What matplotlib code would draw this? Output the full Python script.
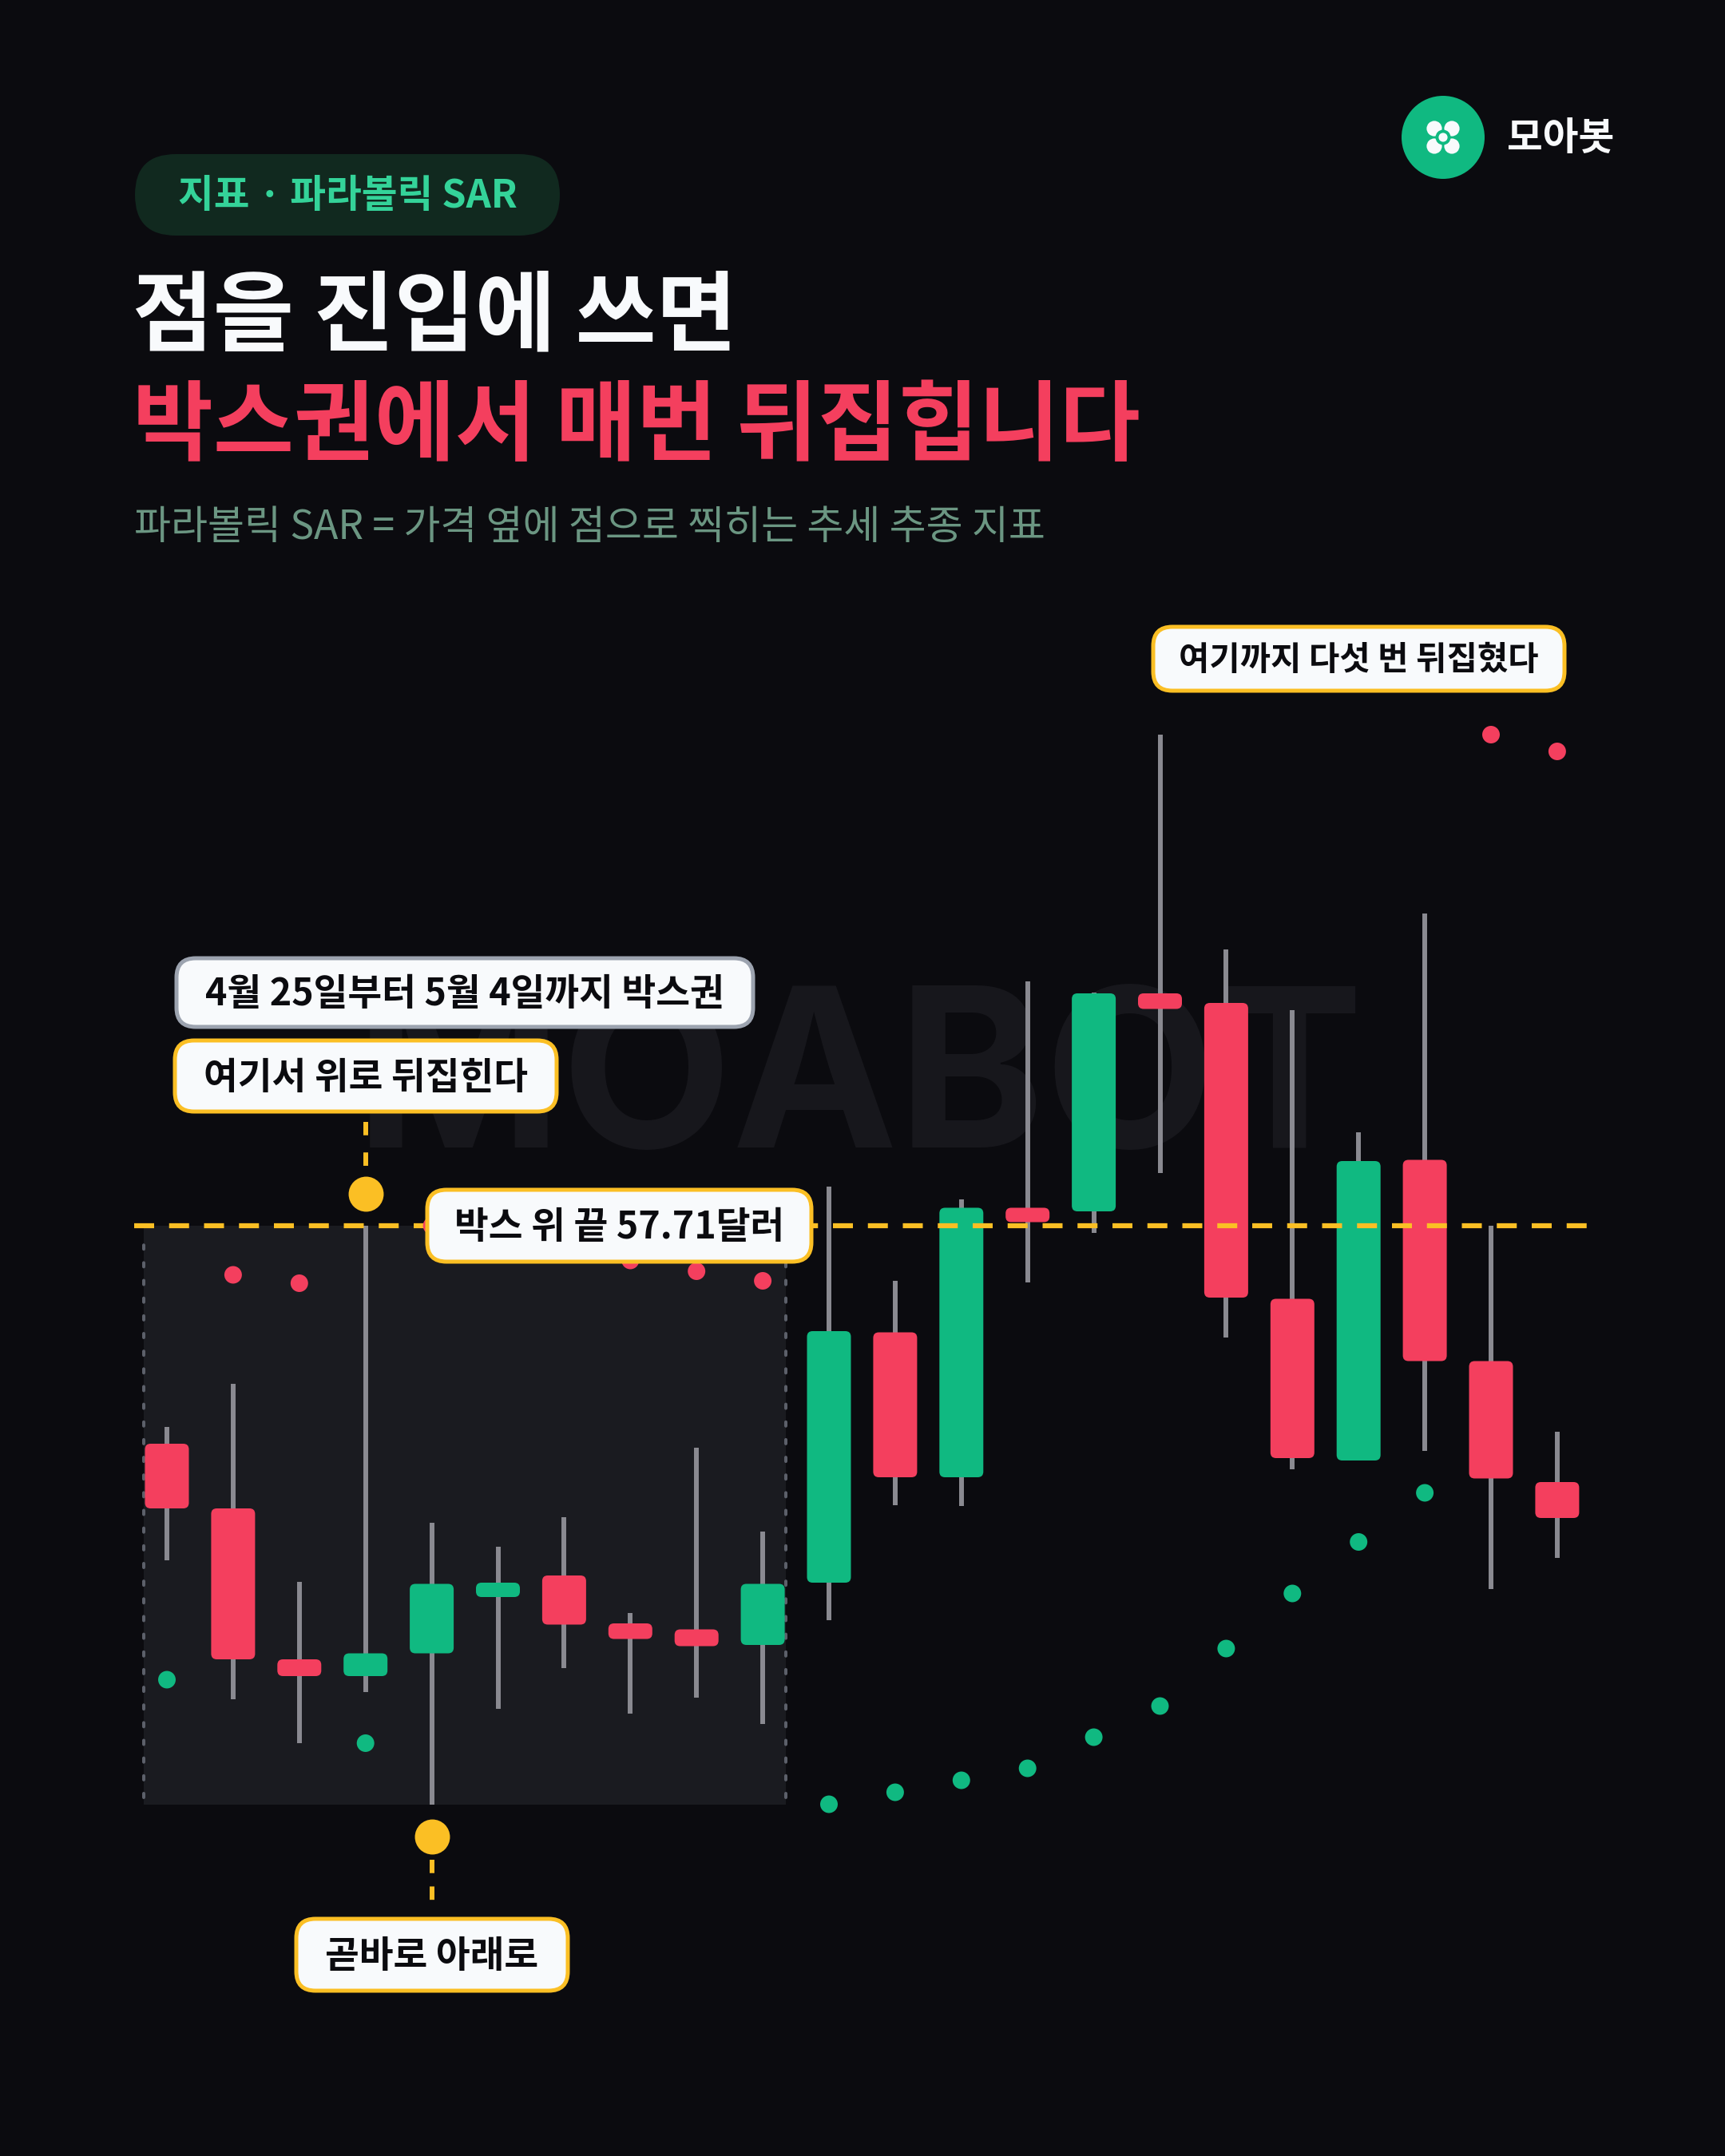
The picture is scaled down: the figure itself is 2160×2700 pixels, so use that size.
import matplotlib
matplotlib.use("Agg")
import matplotlib.pyplot as plt
from matplotlib.patches import FancyBboxPatch, Circle, Rectangle
from matplotlib.transforms import Affine2D

# ---------------- data ----------------
opens  = [55.89, 55.35, 54.09, 53.95, 54.14, 54.61, 54.79, 54.39, 54.34, 54.21,
          54.73, 56.82, 55.61, 57.86, 57.83, 59.65, 59.57, 57.10, 55.75, 58.26,
          56.58, 55.57]
highs  = [56.03, 56.39, 54.74, 57.71, 55.23, 55.03, 55.28, 54.48, 55.86, 55.16,
          58.04, 57.25, 57.93, 59.75, 59.66, 61.81, 60.02, 59.51, 58.49, 60.32,
          57.71, 55.99]
lows   = [54.92, 53.76, 53.39, 53.82, 52.88, 53.68, 54.02, 53.64, 53.77, 53.55,
          54.42, 55.38, 55.37, 57.24, 57.65, 58.15, 56.78, 55.68, 55.75, 55.83,
          54.68, 54.94]
closes = [55.35, 54.09, 53.95, 54.14, 54.72, 54.73, 54.38, 54.26, 54.20, 54.72,
          56.83, 55.61, 57.86, 57.74, 59.65, 59.52, 57.11, 55.77, 58.25, 56.58,
          55.60, 55.27]
sar    = [53.92, 57.30, 57.23, 53.39, 57.71, 57.62, 57.53, 57.42, 57.33, 57.25,
          52.88, 52.98, 53.08, 53.18, 53.44, 53.70, 54.18, 54.64, 55.07, 55.48,
          61.81, 61.67]
box_first, box_last = 0, 9
box_top = 57.71
flip_up_idx, flip_down_idx = 3, 4

tag_text = "지표 · 파라볼릭 SAR"
title_line1 = "점을 진입에 쓰면"
title_line2 = "박스권에서 매번 뒤집힙니다"
subtitle = "파라볼릭 SAR = 가격 옆에 점으로 찍히는 추세 추종 지표"
brand = "모아봇"
watermark = "MOABOT"
label_range = "4월 25일부터 5월 4일까지 박스권"
label_up = "여기서 위로 뒤집힌다"
label_top = f"박스 위 끝 {box_top:.2f}달러"
label_down = "곧바로 아래로"
label_five = "여기까지 다섯 번 뒤집혔다"

# ---------------- style ----------------
W, H, DPI = 2160, 2700, 100
BG = "#0b0b0f"
BOXBG = "#1a1b20"
GREEN = "#10b981"
RED = "#f43f5e"
WICK = "#8a8a91"
YEL = "#fbbf24"
WHITE = "#f8fafc"
INK = "#0b0b0f"
FONT = ["Noto Sans CJK KR", "DejaVu Sans"]

fig = plt.figure(figsize=(W / DPI, H / DPI), dpi=DPI, facecolor=BG)
ax = fig.add_axes([0, 0, 1, 1])
ax.axis("off")

# price/index scale placement on the canvas
x0_px, step_px = 209.0, 82.9
yref_px, px_per_usd = 1535.0, 150.0
ax.set_xlim((0 - x0_px) / step_px, (W - x0_px) / step_px)
ax.set_ylim(box_top - (H - yref_px) / px_per_usd, box_top + yref_px / px_per_usd)

PX = Affine2D().scale(1 / W, -1 / H).translate(0, 1) + fig.transFigure


def px_x(i):
    return x0_px + step_px * i


def px_y(p):
    return yref_px - (p - box_top) * px_per_usd


# ---------------- header ----------------
ax.add_patch(FancyBboxPatch((169, 193), 532, 102, boxstyle="round,pad=0,rounding_size=51",
                            transform=PX, fc="#11291f", ec="none", zorder=2))
ax.text(435, 246, tag_text, transform=PX, ha="center", va="center", fontsize=35,
        fontweight="bold", color="#34d399", family=FONT, zorder=3)
ax.text(166, 430, title_line1, transform=PX, ha="left", va="baseline", fontsize=79,
        fontweight="heavy", color=WHITE, family=FONT, zorder=3)
ax.text(166, 568, title_line2, transform=PX, ha="left", va="baseline", fontsize=79,
        fontweight="heavy", color=RED, family=FONT, zorder=3)
ax.text(168, 675, subtitle, transform=PX, ha="left", va="baseline", fontsize=36,
        fontweight="medium", color="#6b9682", family=FONT, zorder=3)

# logo
lc = (1807, 172)
ax.add_patch(Circle(lc, 52, transform=PX, fc=GREEN, ec="none", zorder=3))
for dx in (-11, 11):
    for dy in (-11, 11):
        ax.add_patch(Circle((lc[0] + dx, lc[1] + dy), 9.6, transform=PX, fc=WHITE, ec="none", zorder=4))
ax.add_patch(Circle(lc, 9.5, transform=PX, fc=GREEN, ec="none", zorder=5))
ax.add_patch(Circle(lc, 5.6, transform=PX, fc=WHITE, ec="none", zorder=6))
ax.text(1887, 174, brand, transform=PX, ha="left", va="center", fontsize=35,
        fontweight="bold", color=WHITE, family=FONT, zorder=3)

# watermark (sits behind the callouts, as in the original design)
ax.text(1076, 1437, watermark, transform=PX, ha="center", va="baseline", fontsize=200,
        fontweight="bold", color="#17171c", family=["Inter", "DejaVu Sans"], zorder=0.5)

# ---------------- chart ----------------
idx = list(range(len(opens)))
box_low = min(lows[box_first:box_last + 1])
ax.add_patch(Rectangle((box_first - 0.35, box_low), (box_last - box_first) + 0.70,
                       box_top - box_low, fc=BOXBG, ec="none", zorder=1))
for xe in (box_first - 0.35, box_last + 0.35):
    ax.plot([xe, xe], [box_low + 0.06, box_top - 0.06], color="#5c606a", lw=2.9,
            linestyle=(0, (1.25, 4.25)), dash_capstyle="round", zorder=1.5)

ax.vlines(idx, lows, highs, color=WICK, lw=4.3, zorder=3)

bw = 55 / step_px
rr = 7 / step_px
asp = step_px / px_per_usd
for i, (o, c) in enumerate(zip(opens, closes)):
    col = GREEN if c >= o else RED
    ax.add_patch(FancyBboxPatch((i - bw / 2, min(o, c)), bw, abs(c - o),
                                boxstyle=f"round,pad=0,rounding_size={rr}",
                                mutation_aspect=asp, fc=col, ec="none", zorder=4))

ax.plot([-0.5, len(opens) - 0.5], [box_top, box_top], color=YEL, lw=4.5,
        linestyle=(0, (4, 3)), zorder=5)

sar_cols = [GREEN if s < lo else RED for s, lo in zip(sar, lows)]
ax.scatter(idx, sar, s=250, c=sar_cols, linewidths=0, zorder=6)

# flip markers
up_y = box_top + 40 / px_per_usd
dn_y = box_low - 40 / px_per_usd
ax.scatter([flip_up_idx, flip_down_idx], [up_y, dn_y], s=1000, c=YEL, linewidths=0, zorder=7)

# connectors (pixel space)
ux, dx_ = px_x(flip_up_idx), px_x(flip_down_idx)
ax.plot([ux, ux], [1405, px_y(up_y) - 26], transform=PX, color=YEL, lw=4.3,
        linestyle=(0, (2.8, 3.6)), zorder=7)
ax.plot([dx_, dx_], [px_y(dn_y) + 30, 2392], transform=PX, color=YEL, lw=4.3,
        linestyle=(0, (2.8, 2.8)), zorder=7)


# ---------------- labels ----------------
def label(x0, y0, x1, y1, text, edge, fs=33.5):
    ax.add_patch(FancyBboxPatch((x0, y0), x1 - x0, y1 - y0,
                                boxstyle="round,pad=0,rounding_size=24", transform=PX,
                                fc=WHITE, ec=edge, lw=3.6, zorder=10))
    ax.text((x0 + x1) / 2, (y0 + y1) / 2 + 2, text, transform=PX, ha="center", va="center",
            fontsize=fs, fontweight="bold", color=INK, family=FONT, zorder=11)


label(221, 1200, 943, 1286, label_range, "#9ca3af")
label(219, 1303, 697, 1392, label_up, YEL)
label(535, 1490, 1016, 1580, label_top, YEL)
label(1444, 785, 1959, 865, label_five, YEL, fs=30)
label(371, 2403, 711, 2493, label_down, YEL)

fig.savefig("out.png", dpi=DPI, facecolor=BG)
